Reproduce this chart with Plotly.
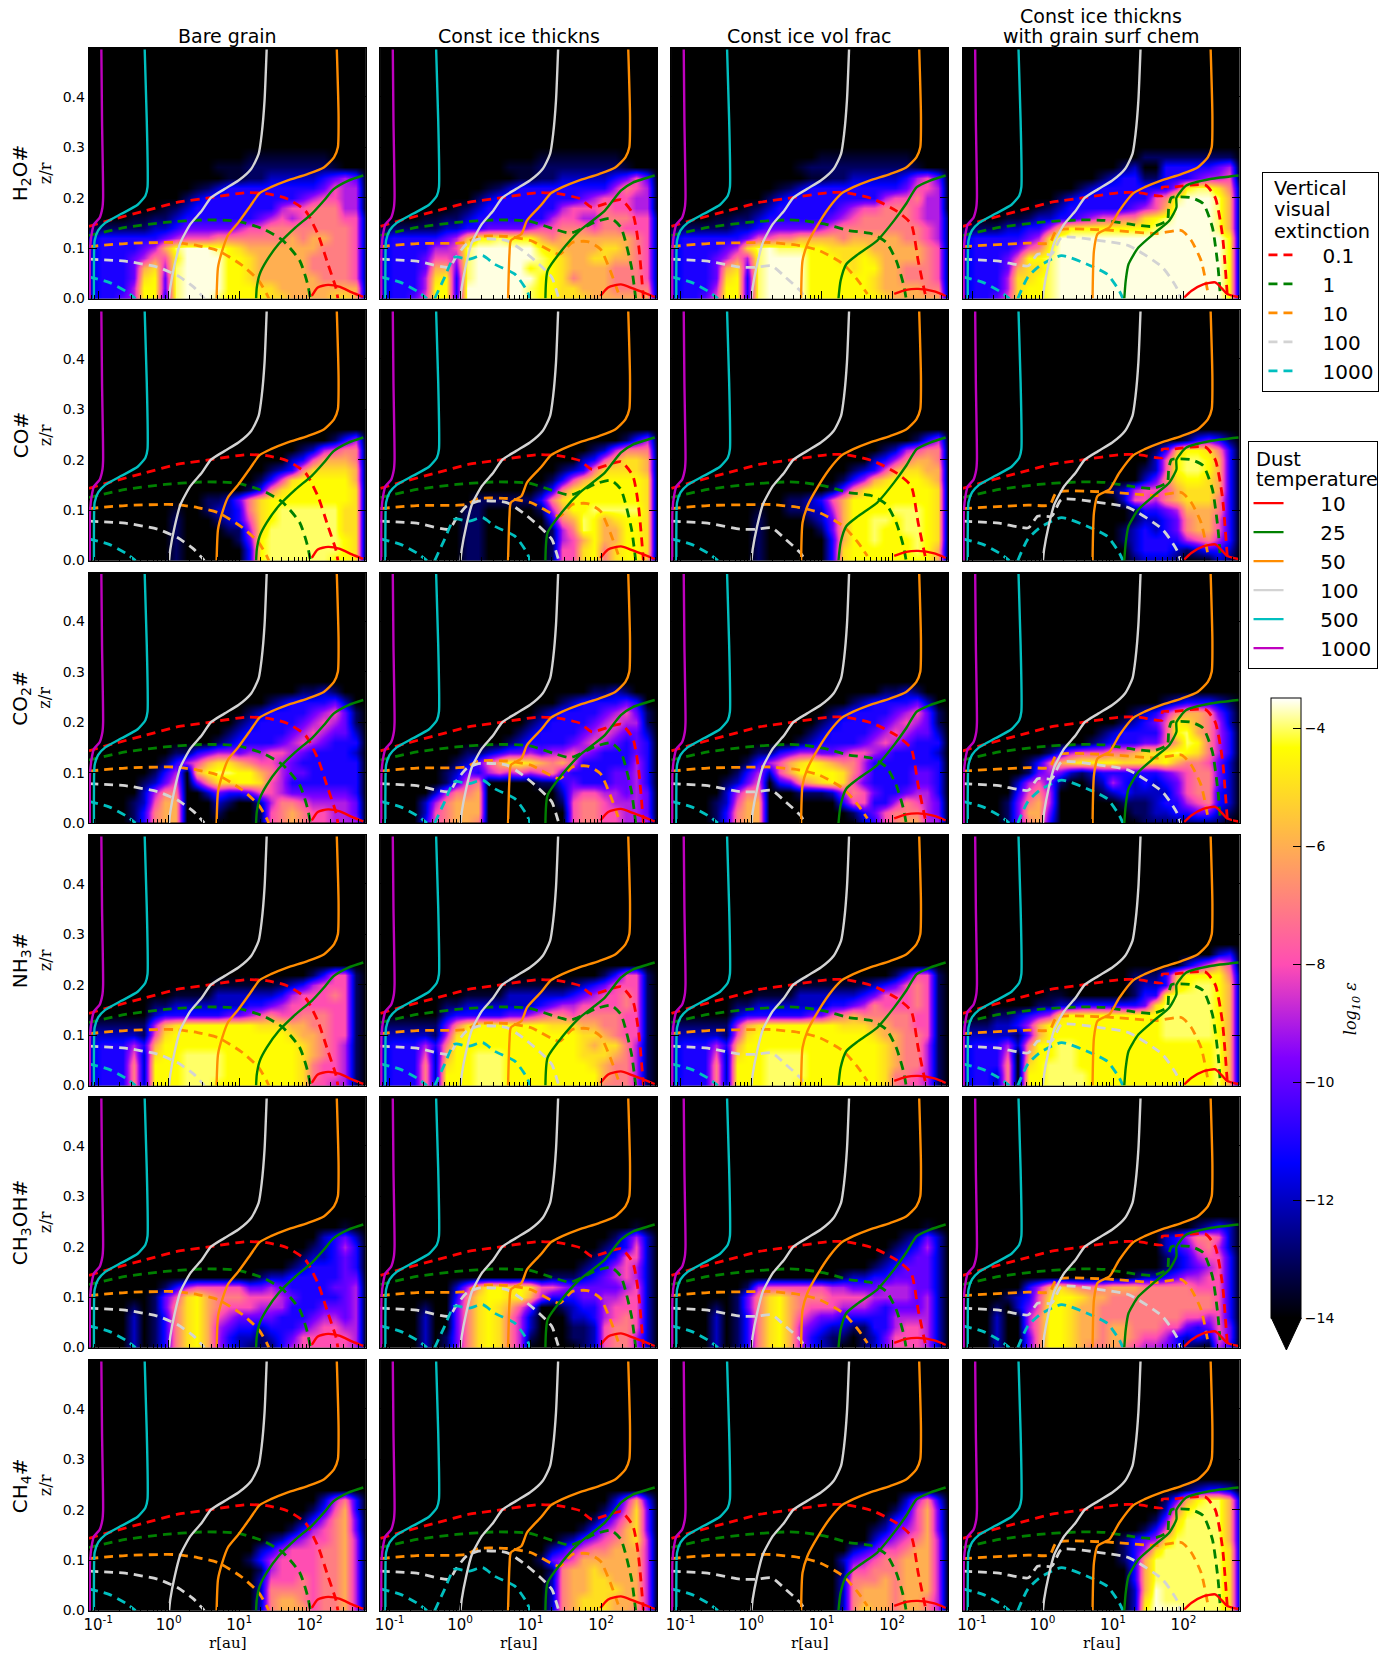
#!/usr/bin/env python3
# -*- coding: utf-8 -*-
import plotly.graph_objects as go

W, H = 1384, 1645  # page body has an 8 px margin
PLOT_H = H - 8  # height left for the plot area once the bottom margin is pushed
COL_LEFT = [84, 376.5, 668.5, 961]
ROW_TOP = [48, 310, 572.5, 835, 1097, 1360]
PANEL_W, PANEL_H = 278, 250.5

COL_TITLES = ["Bare grain", "Const ice thickns", "Const ice vol frac", "with grain surf chem"]
ROW_TITLES = ["H<sub>2</sub>O#", "CO#", "CO<sub>2</sub>#", "NH<sub>3</sub>#",
              "CH<sub>3</sub>OH#", "CH<sub>4</sub>#"]

# heatmap grid: log10(r/au) and z/r
LOG_R = [-1.14, -0.95, -0.8, -0.65, -0.5, -0.35, -0.2, -0.05, 0.1,
         0.25, 0.4, 0.55, 0.7, 0.85, 1.0, 1.15, 1.3, 1.45,
         1.6, 1.75, 1.9, 2.05, 2.2, 2.35, 2.5, 2.65, 2.8]
Z_GRID = [0.0, 0.02, 0.04, 0.06, 0.08, 0.1, 0.12, 0.14, 0.16, 0.18, 0.2,
          0.22, 0.24, 0.26, 0.28, 0.3, 0.5]
# log10 abundance for each character used in the rows below
LEVELS = {"0": -14, "x": -13.5, "1": -13, "2": -12, "3": -11, "4": -10, "5": -9, "6": -8,
          "7": -7, "8": -6, "9": -5, "a": -4.4, "b": -4, "c": -3.6}

# abundance rows, last row is z/r = 0, missing upper rows are empty
H2O_BARE = ["000000000 000000xxx xxxxx0000", "000000000 000xxx111 11111x000",
            "000000000 0000xx112 222234540", "000000000 0x1233333 333346550",
            "000000000 123333333 334566550", "0000000x1 233333333 566777550",
            "0000xx112 333333345 656777661", "x11111223 444445667 777777761",
            "233333345 666777777 787887761", "23333458b cccba9888 888877761",
            "23334576a ccccaa988 888777761", "23334895b ccccaa988 888777761",
            "23334 9a4b ccccaa988 888877761", "23335aa4b ccccaaa99 888888881",
            "23345aa3b cccbaaaa9 988889981"]
H2O_THICK = ["000000000 000000xxx xxxxx0000", "000000000 000xxx111 11111x000",
             "000000000 0000xx112 222234640", "000000000 0x1233333 333357650",
             "000000000 123333333 345666550", "0000000x1 233333335 666766550",
             "0000xx112 333333356 655777661", "x11111223 344445667 776776661",
             "233333458 aabaaa878 888888761", "23333556b cccccca98 888998761",
             "23334665b ccccccba9 889988761", "23334884b cccccaba9 888877761",
             "233359a3b ccccccaa9 788877761", "23335aa3c cccccbaa9 988877771",
             "23346aa3c cccccbaa9 998888881"]
H2O_FRAC = ["000000000 00000xxxx xxxxx0000", "000000000 000x11111 11111x000",
            "000000000 0000xx112 222235640", "000000000 0x1233333 333346650",
            "000000000 123333333 335667550", "0000000x1 233333345 667776550",
            "0000xx112 333333456 777776551", "x11111223 444445677 777777651",
            "233333346 677888878 888877651", "23333459b cbbbaa999 988888761",
            "23334575b ccccaaa99 a98888761", "23334894b ccccaaaa9 aa8877761",
            "233349a3b ccccaaaaa a98877761", "23335aa3b ccccaaaaa a98888771",
            "23346aa3b ccccaaaaa aa9888881"]
H2O_SURF = ["000000000 000000001 111111110", "000000000 000000120 033333450",
            "000000000 000012331 133345560", "000000000 001233333 335abb971",
            "000000000 123333333 67bcccb81", "0000000x1 233333345 68ccccb81",
            "0000xx122 334566779 abccccb81", "x11122335 8aaaaaaaa bcccccb81",
            "233333459 ccccccccc ccccccca1", "23333467a ccccccccc ccccccca1",
            "233346aab ccccccccc ccccccca1", "23334899b ccccccccc ccccccca1",
            "233359 9ab ccccccccc ccccccca1", "233359aab ccccccccc ccccccca1",
            "233469aab ccccccccc ccccccca1"]

CO_BARE = ["000000000 000000000 000001350", "000000000 000000000 001256770",
           "000000000 000000000 023688870", "000000000 000000001 237999980",
           "000000000 000000013 69aaaaa80", "000000000 000000137 9aaaaaa90",
           "000000000 001124 79a aaaaaaa90", "00000000x 001223 79a bbbbbb990",
           "000000001 000123 69a bbbbbb990", "000000001 000011 59b bbbbbb990",
           "000000001 000001 4ab bbbbbba90", "000000001 000000 3ab bbbbbba90",
           "000000001 000000 3ab bbbbbaa90"]
CO_THICK = ["000000000 000000000 000001350", "000000000 000000000 001257770",
            "000000000 000000000 023689980", "000000000 000000001 237999980",
            "000000000 000000013 689aaaa90", "000000000 000000137 9aaaaaa90",
            "000000000 111111379 aaaaaaa90", "000000001 100000158 aabbbbb90",
            "000000001 100000037 8ba89aa90", "000000001 100000015 7ba88aa90",
            "000000001 100000015 68a88aa90", "000000001 100000016 69a79aa90",
            "000000001 100000016 69a79aa80"]
CO_FRAC = ["000000000 000000000 000001350", "000000000 000000000 001256770",
           "000000000 000000000 023578870", "000000000 000000001 236899880",
           "000000000 000000013 589aaa980", "000000000 000000147 9aaaaaa90",
           "000000000 00112368a aaaaaaa90", "00000000x 00112258a aaabbba90",
           "000000001 00001248a abbabba90", "000000001 00000148a abaabba90",
           "000000001 00000038a abaaaba90", "000000001 00000039a aaaaaba80",
           "000000001 00000039a aaaaaaa80"]
CO_SURF = ["000000000 000000000 000134310", "000000000 000000000 138aa9730",
           "000000000 000000000 26abba830", "000000000 000000001 26abba830",
           "000000000 000000002 479aa9830", "000000000 000001256 668999830",
           "000000000 000000266 578999730", "000000000 000000013 345888730",
           "000000000 000000012 234788630", "000000000 000000123 234788630",
           "000000000 000000123 333567530", "000000000 000000023 332123320",
           "000000000 000000012 221000210"]

CO2_BARE = ["000000000 000000000 001121000", "000000000 000000001 233334200",
            "000000000 000000123 333456410", "000000000 000001233 334565410",
            "000000000 000012333 345654420", "000000000 000123333 456543330",
            "000000001 134554556 654333320", "000000013 568998766 543333330",
            "000000135 08abbaa87 544333330", "000001246 047 99aa96 533333330",
            "000002577 002433466 544444430", "000012688 000210025 776555540",
            "000013788 000100016 787665540", "000013788 000000016 787665550"]
CO2_THICK = ["000000000 000000000 001121000", "000000000 000000001 233334300",
             "000000000 000000123 333456410", "000000000 000001233 334565510",
             "000000000 000012333 345654420", "000000000 000123333 456543430",
             "000000001 123445455 654333430", "000000012 468aa9878 633333530",
             "000000124 356565674 333344530", "000000136 700000113 433344530",
             "000002577 800000002 566554540", "000025788 800000001 677655540",
             "000026788 800000000 677665540", "000036788 700000000 677665550"]
CO2_FRAC = ["000000000 000000000 001121000", "000000000 000000001 233334200",
            "000000000 000000123 333456410", "000000000 000001233 334565410",
            "000000000 000012333 345654420", "000000000 000123333 456543330",
            "000000001 134554456 654333320", "000000013 5689a9877 533333330",
            "000000135 268aaaa97 533334430", "000001246 034789a96 433334430",
            "000002577 000111257 643345530", "000012688 000000036 633576540",
            "000013788 000000001 346777540", "000013788 000000000 236788550"]
CO2_SURF = ["000000000 000000000 012333210", "000000000 000000012 357887420",
            "000000000 000000123 46a987520", "000000000 000012333 36ab87530",
            "000000000 000123334 468ba7530", "000000001 356667789 9aba97530",
            "000000136 89aaaa999 9a8776420", "000000145 421233333 345677420",
            "000002564 100125323 234677420", "000003675 000012322 224677320",
            "000014785 000000111 233567320", "000014884 000000011 223344210",
            "000014783 000000001 111111100"]

NH3_BARE = ["000000000 000000000 000136610", "000000000 000xxxxxx 123566610",
            "00000000x xxx222222 356667610", "000000112 222222334 566666610",
            "000000233 333344567 667776610", "111111589 aaaaaaa99 988776610",
            "22222169a aaaaaaaaa a98876610", "233353 8aa aaaaaaaaa aa9876510",
            "233362 9aa bbbbaaaaa aa9876510", "233372aaa bbbbaaaaa aa9766510",
            "233372aaa bbbbaaaaa aa9766510", "233372aaa bbbaaaaaa aa9665510"]
NH3_THICK = ["000000000 000000000 000136610", "000000000 000xxxxxx 123466610",
             "00000000x xxx222222 345667610", "000000112 222222345 566667610",
             "000000233 333445677 677776610", "111111479 aaaaaaa99 988776610",
             "22222159a aaaaaaaaa a99876610", "233353 7aa aaaaaaaaa a98997510",
             "233362 8aa bbbaaaaaa a99987510", "233372 9aa bbbaaaaaa aa9877510",
             "233372aaa bbbaaaaaa aaa877510", "233372aaa bbbaaaaaa aaa777510"]
NH3_FRAC = ["000000000 000000000 000136610", "000000000 000xxxxxx 123467610",
            "00000000x xxx222222 346667610", "000000112 222222334 576667610",
            "000000233 333344678 777776610", "111111589 aaaaaaa99 988776610",
            "22222169a aaaaaaaaa a98877610", "233353 8aa aaaaaaaaa aa9877510",
            "233362 9aa bbbbaaaaa aa9877510", "233372aaa bbbbaaaaa aa9877510",
            "233372aaa bbbbaaaaa aa9776510", "233372aaa bbbaaaaaa aa9766510"]
NH3_SURF = ["000000000 000000000 000000230", "000000000 000000000 000246860",
            "000000000 000000011 138aaaa71", "000000000 000000012 239abba81",
            "00000000x x00000013 3abbbba81", "000000011 223333334 9bbbbba81",
            "000112345 9aaaaaaaa abbbbba81", "11122358a aaaaaaaaa abbbbba81",
            "22222148a aaaaaaaaa abbbbba81", "2333527aa bbaaaaaaa aaaaaab81",
            "2333608aa bbaaaaaaa aaaaaab81", "2333709ab bbaaaaaaa aaaaaab81",
            "233270aab bbbaaaaaa aaaaaab81", "233270aab bbbaaaaaa aaaaaab81"]

CH3OH_BARE = ["000000000 000000000 000000x00", "000000000 000000000 000023420",
              "000000000 000000000 000123530", "000000000 000000000 001223430",
              "000000000 000000000 012333430", "000000000 000000012 233333440",
              "000000013 566666445 433334450", "000000146 9a8777666 543333450",
              "000010147 9a8766655 533344450", "000020137 9a8654444 333455450",
              "000020137 9a8543323 334566550", "000020137 9a8532212 346666650",
              "000020137 9a8532111 356666650"]
CH3OH_THICK = ["000000000 000000000 000000x00", "000000000 000000000 000013520",
               "000000000 000000000 000123620", "000000000 000000000 001236620",
               "000000000 000000000 012356520", "000000000 000000011 123456520",
               "000000025 8aa9a9665 444445620", "000000037 9aa9a8533 344556620",
               "000010047 9a9864001 233566620", "000020047 9a9752000 223567620",
               "000020047 9a9752000 112677620", "000020147 9a9751000 112677520",
               "000020147 9a9750000 012677520"]
CH3OH_FRAC = ["000000000 000000000 000000x00", "000000000 000000000 000012420",
              "000000000 000000000 000123520", "000000000 000000000 001234420",
              "000000000 000000000 012344420", "000000000 000000012 233444420",
              "000000015 666666554 445554420", "000000147 9a8777666 655554520",
              "000010147 9a8766655 543444520", "000020137 9a8654433 333555520",
              "000020137 9a8543221 133566520", "000020137 9a8532110 124666520",
              "000020137 9a8532100 124666520"]
CH3OH_SURF = ["000000000 000000000 000012320", "000000000 000000000 023577620",
              "000000000 000000000 023467520", "000000000 000000000 012356630",
              "000000000 000000000 012345630", "000000000 000000012 234556630",
              "000000358 987778887 777766630", "000012369 aa9887777 777777630",
              "00010246a a98877777 777777630", "00020057a a98877777 777665630",
              "00020057a a98878877 766434640", "00020047a a98878876 653232640",
              "00020047a a98778765 543100530"]

CH4_BARE = ["000000000 000000000 000025730", "000000000 000000000 000136830",
            "000000000 000000000 001357840", "000000000 000000000 013567840",
            "000000000 000000001 245667850", "000000000 000000023 566677850",
            "000000000 000000135 666677850", "000000000 000000015 666677850",
            "000000000 000000026 667677850", "000000000 000000027 777677850",
            "000000000 000000027 887677850", "000000000 000000027 888677850"]
CH4_THICK = ["000000000 000000000 000025830", "000000000 000000000 000136940",
             "000000000 000000000 001357940", "000000000 000000000 013568940",
             "000000000 000000001 245678950", "000000000 000000023 567788850",
             "000000000 000000145 688888850", "000000000 000000017 889888850",
             "000000000 000000027 889988850", "000000000 000000027 889998850",
             "000000000 000000027 899988850", "000000000 000000027 899988750"]
CH4_FRAC = ["000000000 000000000 000025730", "000000000 000000000 000136840",
            "000000000 000000000 001346840", "000000000 000000000 012456840",
            "000000000 000000000 024567850", "000000000 000000002 346678850",
            "000000000 000000024 567788850", "000000000 000000016 677788850",
            "000000000 000000027 778788850", "000000000 000000027 888788850",
            "000000000 000000027 888788750", "000000000 000000027 988788750"]
CH4_SURF = ["000000000 000000000 000123320", "000000000 000000000 0148abb82",
            "000000000 000000000 027abbb82", "000000000 000000000 149bbbb82",
            "000000000 000000001 36abbbb82", "000000000 000000134 59bbbbb82",
            "000000000 000000135 9bbbbbb92", "000000000 000000138 bbbbbbb92",
            "000000000 000000038 bbbbbbb92", "000000000 000000038 bbbbbbb92",
            "000000000 000000028 cbbbbbb92", "000000000 000000029 cbbbbbb92",
            "000000000 00000002a cccbbbb92"]

PANELS = [[H2O_BARE, H2O_THICK, H2O_FRAC, H2O_SURF],
          [CO_BARE, CO_THICK, CO_FRAC, CO_SURF],
          [CO2_BARE, CO2_THICK, CO2_FRAC, CO2_SURF],
          [NH3_BARE, NH3_THICK, NH3_FRAC, NH3_SURF],
          [CH3OH_BARE, CH3OH_THICK, CH3OH_FRAC, CH3OH_SURF],
          [CH4_BARE, CH4_THICK, CH4_FRAC, CH4_SURF]]

# dust temperature contours, (log10 r, z/r)
T_1000 = [(-0.955, .494), (-0.945, .35), (-0.93, .2), (-0.94, .18), (-0.98, .16),
          (-1.06, .147), (-1.09, .13), (-1.115, .10), (-1.118, 0)]
T_500 = [(-0.34, .494), (-0.31, .35), (-0.30, .221), (-0.33, .204), (-0.44, .186),
         (-0.67, .168), (-0.90, .15), (-1.0, .135), (-1.05, .115), (-1.06, .06), (-1.06, 0)]
T_100 = [(1.39, .494), (1.36, .393), (1.32, .327), (1.276, .287), (1.17, .257),
         (0.99, .234), (0.79, .217), (0.60, .2), (0.47, .174), (0.31, .148),
         (0.167, .111), (0.086, .068), (0.023, .022), (0.006, 0)]
T_50_TOP = [(2.385, .494), (2.41, .36), (2.40, .30), (2.345, .28), (2.2, .26),
            (1.97, .247), (1.68, .234), (1.45, .221), (1.29, .209)]
T_50 = [T_50_TOP + [(1.16, .184), (0.99, .151), (0.84, .125), (0.76, .095), (0.70, .062), (0.68, 0)],
        T_50_TOP + [(1.14, .184), (0.95, .155), (0.87, .128), (0.72, .115), (0.70, .088), (0.68, 0)],
        T_50_TOP + [(1.11, .181), (0.9, .135), (0.8, .108), (0.73, .075), (0.71, 0)],
        T_50_TOP + [(1.09, .174), (0.95, .141), (0.78, .128), (0.73, .095), (0.71, 0)]]
T_25 = [[(2.76, .244), (2.55, .234), (2.34, .217), (2.2, .194), (2.03, .168), (1.80, .141),
         (1.56, .108), (1.39, .075), (1.29, .048), (1.25, .022), (1.24, 0)],
        [(2.76, .244), (2.45, .23), (2.28, .214), (2.05, .174), (1.70, .135), (1.44, .095),
         (1.24, .055), (1.21, 0)],
        [(2.76, .244), (2.54, .234), (2.35, .221), (2.2, .188), (2.03, .155), (1.79, .115),
         (1.52, .088), (1.35, .068), (1.27, .035), (1.24, 0)],
        [(2.78, .244), (2.38, .237), (2.04, .224), (1.9, .2), (1.9, .181), (1.8, .155),
         (1.6, .131), (1.36, .101), (1.22, .068), (1.18, .035), (1.16, 0)]]
T_10 = [[(2.03, .005), (2.115, .022), (2.26, .027), (2.43, .023), (2.6, .012), (2.76, .003)],
        [(1.99, .005), (2.10, .022), (2.28, .028), (2.45, .02), (2.6, .012), (2.76, .003)],
        [(2.03, .009), (2.2, .017), (2.37, .019), (2.6, .014), (2.76, .005)],
        [(2.01, .002), (2.11, .015), (2.28, .028), (2.45, .032), (2.55, .019), (2.62, .009), (2.78, .003)]]

# visual extinction contours, None breaks a line
AV_01_LEFT = [(-1.13, .143), (-.845, .155), (-.33, .174), (.13, .191), (.59, .2), (1.10, .21)]
AV_1_LEFT = [(-1.13, .125), (-.615, .141), (-.05, .151), (.53, .156)]
AV_10_LEFT = [(-1.13, .103), (-.615, .109), (.075, .111)]
AV_100_LEFT = [(-1.13, .078), (-.615, .074), (-.155, .062)]
AV_1000_LEFT = [(-1.13, .043), (-.845, .032), (-.615, .015), (-.47, 0)]
AV_01 = [AV_01_LEFT + [(1.39, .208), (1.68, .198), (1.94, .174), (2.115, .128), (2.26, .068), (2.37, .022), (2.40, 0)],
         AV_01_LEFT + [(1.39, .208), (1.70, .198), (1.87, .181), (2.28, .196), (2.45, .168), (2.53, .108), (2.6, 0)],
         AV_01_LEFT + [(1.34, .21), (1.72, .198), (2.06, .174), (2.27, .148), (2.37, .075), (2.47, .009), (2.49, 0)],
         AV_01_LEFT + [(1.36, .21), (1.7, .204), (1.7, .221), (1.83, .221), (2.31, .225), (2.45, .2), (2.55, .128), (2.62, .009)]]
AV_1 = [AV_1_LEFT + [(.99, .153), (1.34, .138), (1.62, .115), (1.86, .075), (1.97, .029), (2.01, 0)],
        AV_1_LEFT + [(.99, .153), (1.35, .137), (1.57, .13), (1.92, .152), (2.14, .159), (2.28, .141), (2.43, .063), (2.49, 0)],
        AV_1_LEFT + [(.7, .155), (1.04, .148), (1.38, .135), (1.72, .128), (1.92, .111), (2.06, .075), (2.16, .029), (2.2, 0)],
        AV_1_LEFT + [(.88, .155), (1.22, .148), (1.56, .143), (1.77, .155), (1.79, .181), (1.83, .2), (2.11, .2),
                     (2.28, .188), (2.41, .141), (2.49, .062), (2.52, .009)]]
AV_10 = [AV_10_LEFT + [(.41, .105), (.70, .095), (1.05, .065), (1.28, .035), (1.39, .009), (1.42, 0)],
         AV_10_LEFT + [(.26, .123), (.67, .123), (1.0, .115), (1.41, .088), (1.59, .111), (1.81, .113), (1.99, .098), (2.13, .055), (2.25, .009)],
         AV_10_LEFT + [(.29, .111), (.69, .105), (.97, .095), (1.31, .068), (1.52, .035), (1.65, .009)],
         [(-1.13, .103), (-.2, .11), (.1, .11), (.2, .135), (.88, .136), (1.63, .129), (1.97, .135), (2.11, .115), (2.25, .075), (2.35, .009)]]
AV_100 = [AV_100_LEFT + [(.13, .045), (.36, .022), (.505, 0)],
          AV_100_LEFT + [(-.06, .082), (.09, .108), (.26, .118), (.66, .115), (.89, .095), (1.12, .068), (1.30, .042), (1.38, .009), (1.40, 0)],
          AV_100_LEFT + [(.08, .062), (.29, .065), (.49, .042), (.7, .015), (.77, 0)],
          [(-1.13, .078), (-.615, .074), (-.2, .065), (-.07, .088), (.13, .088), (.27, .121), (.81, .115), (1.22, .105), (1.7, .062), (1.9, .022), (1.96, 0)]]
AV_1000 = [AV_1000_LEFT,
           AV_1000_LEFT + [None, (-.36, 0), (-.22, .042), (-.08, .082), (.12, .078), (.32, .085), (.49, .068), (.78, .048), (.95, .015), (.99, 0)],
           AV_1000_LEFT,
           AV_1000_LEFT + [None, (-.35, 0), (-.21, .042), (-.04, .065), (.27, .085), (.68, .065), (.92, .048), (1.09, .015), (1.14, 0)]]

AV_LEVELS = [("0.1", AV_01, "#ff0000"), ("1", AV_1, "#008000"), ("10", AV_10, "#ff8c00"),
             ("100", AV_100, "#d3d3d3"), ("1000", AV_1000, "#00bfbf")]
T_LEVELS = [("10", T_10, "#ff0000"), ("25", T_25, "#008000"), ("50", T_50, "#ff8c00"),
            ("100", [T_100] * 4, "#d3d3d3"), ("500", [T_500] * 4, "#00bfbf"),
            ("1000", [T_1000] * 4, "#bf00bf")]

# matplotlib gnuplot2
GNUPLOT2 = [[0, "#000000"], [0.25, "#0000ff"], [0.42, "#8000ff"],
            [0.57, "#ff4db3"], [0.92, "#ffff00"], [1, "#ffffff"]]

R_TICKS = [0.1, 1, 10, 100]
R_LABELS = ["10<sup>-1</sup>", "10<sup>0</sup>", "10<sup>1</sup>", "10<sup>2</sup>"]
R_MINOR = [m * d for d in [0.01, 0.1, 1, 10, 100] for m in range(2, 10)]


def px_x(x):
    return (x - 8) / W


def px_y(y):
    return 1 - (y - 8) / PLOT_H


def decode(rows):
    rows = [r.replace(" ", "") for r in rows][::-1]
    out = [[LEVELS[c] for c in r.ljust(len(LOG_R), "0")[:len(LOG_R)]] for r in rows]
    while len(out) < len(Z_GRID):
        out.append([-14] * len(LOG_R))
    return out


def contour_xy(points):
    xs = [None if p is None else 10 ** p[0] for p in points]
    ys = [None if p is None else p[1] for p in points]
    return xs, ys


def label(text, x, y, size, family="DejaVu Sans", angle=0, anchor="center"):
    return dict(text=text, x=px_x(x), y=px_y(y), xref="paper", yref="paper", showarrow=False,
                xanchor=anchor, yanchor="middle", textangle=angle,
                font=dict(family=family, size=size, color="black"))


R_GRID = [10 ** v for v in LOG_R]
fig = go.Figure()

for i, row in enumerate(PANELS):
    for j, rows in enumerate(row):
        n = i * 4 + j + 1
        suffix = "" if n == 1 else str(n)
        xname, yname = "x" + suffix, "y" + suffix
        fig.add_trace(go.Heatmap(x=R_GRID, y=Z_GRID, z=decode(rows), zsmooth="best",
                                 coloraxis="coloraxis", xaxis=xname, yaxis=yname,
                                 hoverinfo="skip"))
        for name, lines, color in AV_LEVELS:
            xs, ys = contour_xy(lines[j])
            fig.add_trace(go.Scatter(x=xs, y=ys, mode="lines", name="\u00a0\u00a0\u00a0" + name,
                                     xaxis=xname, yaxis=yname,
                                     line=dict(color=color, width=2.8, dash="9px,6px", shape="spline", smoothing=0.6),
                                     legend="legend", showlegend=n == 1, hoverinfo="skip"))
        for name, lines, color in T_LEVELS:
            xs, ys = contour_xy(lines[j])
            fig.add_trace(go.Scatter(x=xs, y=ys, mode="lines", name="\u00a0\u00a0\u00a0\u00a0\u00a0" + name,
                                     xaxis=xname, yaxis=yname,
                                     line=dict(color=color, width=2.4, shape="spline", smoothing=0.6),
                                     legend="legend2", showlegend=n == 1, hoverinfo="skip"))

        left, top = COL_LEFT[j], ROW_TOP[i]
        x_axis = dict(type="log", range=[-1.134, 2.795], domain=[px_x(left), px_x(left + PANEL_W)],
                      anchor=yname, tickvals=R_TICKS, ticktext=R_LABELS, ticks="inside", ticklen=8, tickwidth=1.3,
                      tickcolor="black", showline=True, linecolor="black", linewidth=1, mirror="ticks",
                      showgrid=False, zeroline=False, showticklabels=i == 5,
                      tickfont=dict(family="DejaVu Sans", size=15, color="black"),
                      minor=dict(tickvals=R_MINOR, ticks="inside", ticklen=4, tickcolor="black", tickwidth=1, showgrid=False))
        y_axis = dict(range=[0, 0.497], domain=[px_y(top + PANEL_H), px_y(top)], anchor=xname,
                      tickvals=[0, 0.1, 0.2, 0.3, 0.4], tickformat=".1f", ticks="inside", ticklen=8, tickwidth=1.3,
                      tickcolor="black", showline=True, linecolor="black", linewidth=1, mirror="ticks",
                      showgrid=False, zeroline=False, showticklabels=j == 0,
                      tickfont=dict(family="DejaVu Sans", size=14, color="black"))
        fig.update_layout({"xaxis" + suffix: x_axis, "yaxis" + suffix: y_axis})

annotations = []
for j, title in enumerate(COL_TITLES):
    annotations.append(label(title, COL_LEFT[j] + PANEL_W / 2, 36, 19))
    annotations.append(label("r[au]", COL_LEFT[j] + PANEL_W / 2, 1643, 15, family="DejaVu Serif"))
annotations.append(label("Const ice thickns", COL_LEFT[3] + PANEL_W / 2, 16, 19))
for i, title in enumerate(ROW_TITLES):
    annotations.append(label(title, 16, ROW_TOP[i] + PANEL_H / 2, 20, angle=-90))
    annotations.append(label("z/r", 40, ROW_TOP[i] + PANEL_H / 2, 16, family="DejaVu Serif", angle=-90))
# legend titles sit in blank space kept by the legend's own title
for text, y in [("Vertical", 188), ("visual", 210), ("extinction", 232)]:
    annotations.append(label(text, 1272, y, 19.4, anchor="left"))
for text, y in [("Dust", 459), ("temperature", 480)]:
    annotations.append(label(text, 1254, y, 19.4, anchor="left"))
annotations.append(label("<i>log<sub>10</sub> ε</i>", 1352, 1009, 16, family="DejaVu Serif", angle=-90))

fig.update_layout(
    width=W, height=H, margin=dict(l=0, r=0, t=0, b=0),
    paper_bgcolor="white", plot_bgcolor="black", annotations=annotations,
    coloraxis=dict(colorscale=GNUPLOT2, cmin=-14, cmax=-3.5, colorbar=dict(
        x=px_x(1271), xanchor="left", y=px_y(698.5), yanchor="top", xpad=0, ypad=0,
        thickness=30, thicknessmode="pixels", len=619.5, lenmode="pixels",
        tickvals=[-4, -6, -8, -10, -12, -14], ticks="inside", ticklen=8, tickcolor="black",
        tickfont=dict(family="DejaVu Sans", size=14, color="black"),
        outlinecolor="black", outlinewidth=1)),
    legend=dict(x=px_x(1262), xanchor="left", y=px_y(172), yanchor="top",
                title=dict(text="\u00a0<br>\u00a0<br>\u00a0", font=dict(family="DejaVu Sans", size=16, color="black")),
                font=dict(family="DejaVu Sans", size=20, color="black"), bgcolor="rgba(0,0,0,0)",
                bordercolor="black", borderwidth=1, itemwidth=30, tracegroupgap=0,
                entrywidth=80, entrywidthmode="pixels"),
    legend2=dict(x=px_x(1247), xanchor="left", y=px_y(441), yanchor="top",
                 title=dict(text="\u00a0<br>\u00a0", font=dict(family="DejaVu Sans", size=16, color="black")),
                 font=dict(family="DejaVu Sans", size=20, color="black"), bgcolor="rgba(0,0,0,0)",
                 bordercolor="black", borderwidth=1, itemwidth=30, tracegroupgap=0,
                 entrywidth=106, entrywidthmode="pixels"),
    shapes=[dict(type="path", xref="paper", yref="paper", fillcolor="black", line=dict(color="black", width=1),
                 path=f"M {px_x(1271)} {px_y(1318)} L {px_x(1301)} {px_y(1318)} L {px_x(1286)} {px_y(1350)} Z")],
)

fig.write_html("out.html")
